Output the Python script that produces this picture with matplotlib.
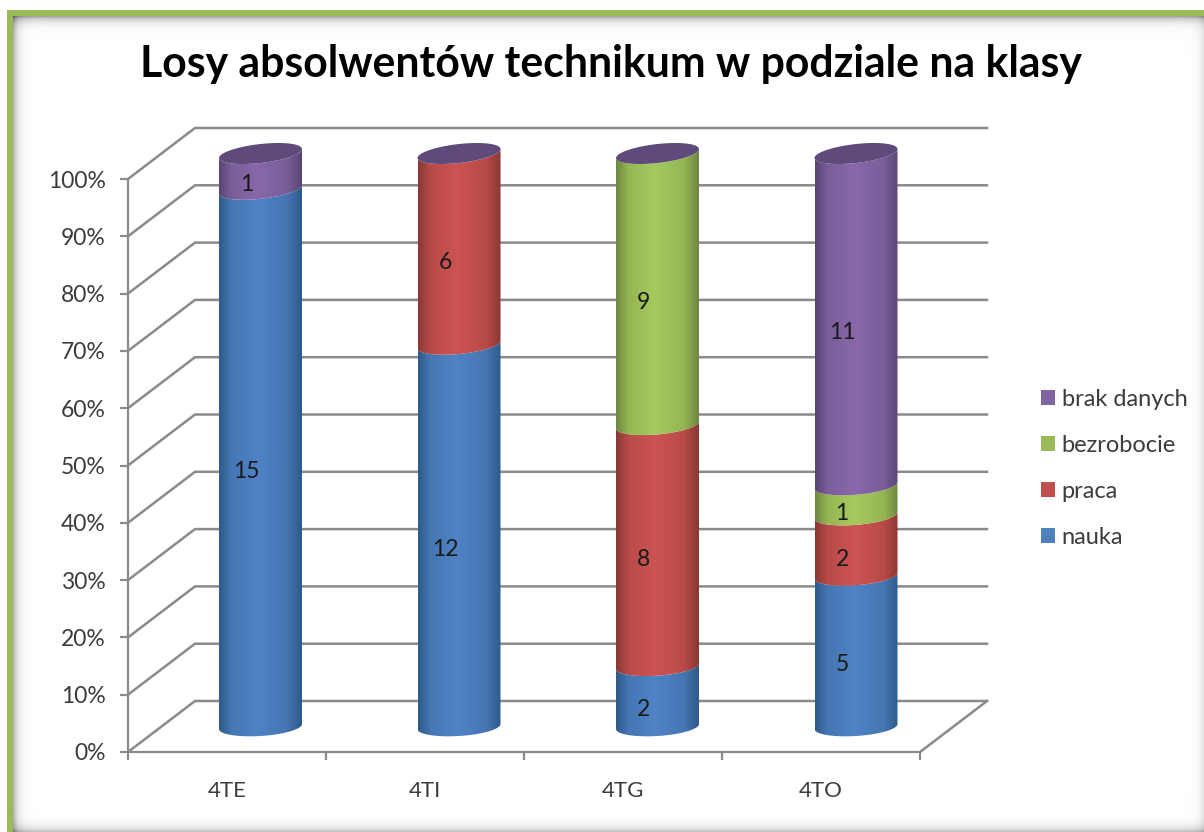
import matplotlib
matplotlib.use('Agg')
import matplotlib.pyplot as plt
import numpy as np
from matplotlib.colors import LinearSegmentedColormap, to_rgb
from matplotlib.patches import Patch, Polygon, Rectangle

plt.rcParams['font.family'] = ['Lato', 'DejaVu Sans']

classes = ['4TE', '4TI', '4TG', '4TO']
series_names = ['nauka', 'praca', 'bezrobocie', 'brak danych']
nauka = [15, 12, 2, 5]
praca = [0, 6, 8, 2]
bezrobocie = [0, 0, 9, 1]
brak_danych = [1, 0, 0, 11]
series = [nauka, praca, bezrobocie, brak_danych]
pct_ticks = list(range(0, 101, 10))

legend_colors = ['#4f81bd', '#c0504d', '#9bbb59', '#8064a2']
mid_colors = ['#4f83c5', '#cc5452', '#a6ca5e', '#8868aa']
edge_colors = ['#2f5a8a', '#8a3735', '#6e873f', '#594573']
cap_color = '#5f4a7c'
line_color = '#8a8a8a'
text_color = '#3c3c3c'
frame_color = '#9bbb59'

W, H = 1204, 832
# front plane of the fake 3D box, in pixels
AX_L, AX_R, AX_TOP, AX_BOT = 128, 920, 179, 752
DEPTH_X, DEPTH_Y = 67, 51

fig = plt.figure(figsize=(W / 100, H / 100), dpi=100, facecolor='white')

# frame with soft inner shadow
bg = fig.add_axes([0, 0, 1, 1], zorder=-1)
yy, xx = np.mgrid[0:H, 0:W]
shade = (
    0.30 * np.exp(-np.clip(xx - 13, 0, None) / 4.5)
    + 0.35 * np.exp(-np.clip(yy - 16, 0, None) / 4.5)
    + 0.14 * np.exp(-np.clip(W - xx, 0, None) / 4.5)
    + 0.30 * np.exp(-np.clip(H - yy, 0, None) / 4.5)
)
bg.imshow(1 - np.clip(shade, 0, 1), cmap='gray', vmin=0, vmax=1, aspect='auto',
          extent=(0, W, H, 0), interpolation='bilinear')
bg.add_patch(Rectangle((0, 0), 7, H, color='white', lw=0))
bg.add_patch(Rectangle((0, 0), W, 10, color='white', lw=0))
bg.add_patch(Rectangle((7, 10), 6, H - 10, color=frame_color, lw=0))
bg.add_patch(Rectangle((7, 10), W - 7, 6, color=frame_color, lw=0))
bg.set_xlim(0, W)
bg.set_ylim(H, 0)
bg.axis('off')

ax = fig.add_axes([AX_L / W, (H - AX_BOT) / H, (AX_R - AX_L) / W, (AX_BOT - AX_TOP) / H])
ax.patch.set_alpha(0)
ax.set_xlim(0, len(classes))
ax.set_ylim(0, 100)
px_x = len(classes) / (AX_R - AX_L)
px_y = 100 / (AX_BOT - AX_TOP)
dx, dy = DEPTH_X * px_x, DEPTH_Y * px_y

# walls and floor
for p in pct_ticks:
    ax.plot([0, dx, len(classes) + dx], [p, p + dy, p + dy], color=line_color,
            lw=1.8, clip_on=False, zorder=1, solid_joinstyle='miter')
ax.plot([len(classes), len(classes) + dx], [0, dy], color=line_color, lw=1.8,
        clip_on=False, zorder=1)

half_w = 41.5 * px_x
half_h = 9.5 * px_y


def front_arc(cx, p, start=np.pi, stop=2 * np.pi):
    # tilt of the ellipse grows a bit towards the top of the chart
    tilt = (2.5 + 2.0 * p / 100) * px_y
    t = np.linspace(start, stop, 60)
    return cx + half_w * np.cos(t), p + dy / 2 + half_h * np.sin(t) + tilt * np.cos(t)


def blend(a, b, f):
    return tuple((1 - f) * np.array(to_rgb(a)) + f * np.array(to_rgb(b)))


totals = np.sum(series, axis=0)
for i, name in enumerate(classes):
    cx = i + 0.5 + dx / 2 + i * 0.5 * px_x
    bottom = 0.0
    for s, values in enumerate(series):
        if values[i] == 0:
            continue
        top = bottom + 100 * values[i] / totals[i]
        x0, y0 = front_arc(cx, bottom)
        x1, y1 = front_arc(cx, top)
        outline = np.column_stack([np.r_[x0, x1[::-1]], np.r_[y0, y1[::-1]]])
        side = blend(edge_colors[s], mid_colors[s], 0.7)
        cmap = LinearSegmentedColormap.from_list(
            'cyl', [(0, edge_colors[s]), (0.15, side), (0.47, mid_colors[s]),
                    (0.82, side), (1, edge_colors[s])])
        im = ax.imshow(np.linspace(0, 1, 200)[None, :], cmap=cmap, aspect='auto',
                       extent=(cx - half_w, cx + half_w, y0.min() - 1, y1.max() + 1),
                       zorder=3 + s * 0.1)
        clip = Polygon(outline, closed=True, transform=ax.transData)
        im.set_clip_box(fig.bbox)
        im.set_clip_path(clip)
        ax.text(cx - 14 * px_x, (bottom + top) / 2 + dy / 2 - 13.5 * px_y, str(values[i]),
                ha='center', va='center', fontsize=16.5, color='#1a1a1a', zorder=5)
        bottom = top
    xc, yc = front_arc(cx, 100, 0, 2 * np.pi)
    ax.add_patch(Polygon(np.column_stack([xc, yc]), closed=True, facecolor=cap_color,
                         edgecolor='none', clip_on=False, zorder=4))

ax.set_xlim(0, len(classes))
ax.set_ylim(0, 100)

for side_name in ['top', 'right']:
    ax.spines[side_name].set_visible(False)
for side_name in ['left', 'bottom']:
    ax.spines[side_name].set_color(line_color)
    ax.spines[side_name].set_linewidth(1.6)
    ax.spines[side_name].set_zorder(2)

ax.set_yticks(pct_ticks)
ax.set_yticklabels([f'{p}%' for p in pct_ticks], fontsize=16.5, color=text_color)
ax.tick_params(axis='y', length=6, width=1.6, color=line_color, pad=10)
ax.set_xticks(range(len(classes) + 1))
ax.set_xticklabels([])
ax.tick_params(axis='x', length=6, width=1.6, color=line_color)
ax.set_xticks(np.arange(len(classes)) + 0.5, minor=True)
ax.set_xticklabels(classes, minor=True, fontsize=16, color=text_color)
ax.tick_params(axis='x', which='minor', length=0, pad=21)

handles = [Patch(facecolor=c, edgecolor='none', label=n)
           for c, n in zip(legend_colors[::-1], series_names[::-1])]
fig.legend(handles=handles, loc='upper left', bbox_to_anchor=(1041 / W, 1 - 389 / H),
           frameon=False, fontsize=17, handlelength=0.58, handleheight=0.58,
           handletextpad=0.3, labelspacing=1.06, labelcolor=text_color, borderpad=0,
           borderaxespad=0)

fig.text(611 / W, 1 - 64 / H, 'Losy absolwentów technikum w podziale na klasy',
         ha='center', va='center', fontsize=30.8, fontweight='bold', color='black')

fig.savefig('out.png', dpi=100)
plt.close(fig)
